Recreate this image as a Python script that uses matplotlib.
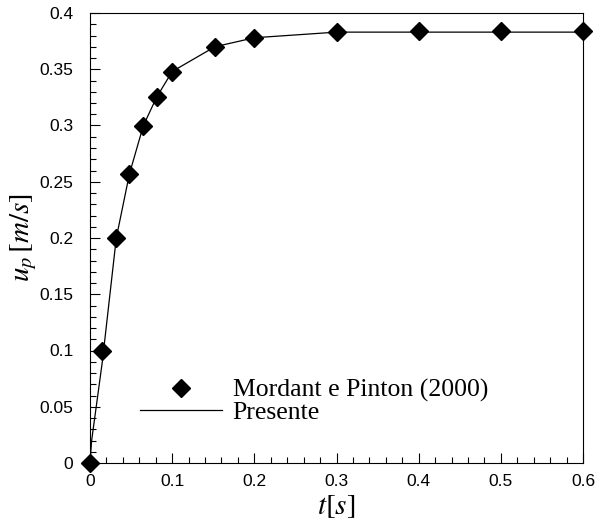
import matplotlib
matplotlib.use("Agg")
import matplotlib.pyplot as plt
from matplotlib.ticker import MultipleLocator

# experimental points (Mordant & Pinton 2000)
t_exp = [0.0, 0.015, 0.032, 0.048, 0.065, 0.081, 0.1, 0.152, 0.2, 0.3, 0.4, 0.5, 0.6]
u_exp = [0.0, 0.1, 0.2, 0.257, 0.3, 0.325, 0.348, 0.370, 0.378, 0.383, 0.384, 0.384, 0.384]

# present simulation
t_sim = [0.0, 0.002, 0.015, 0.032, 0.048, 0.065, 0.081, 0.1, 0.152, 0.2, 0.3, 0.4, 0.5, 0.6]
u_sim = [0.0, 0.02, 0.09, 0.2, 0.257, 0.3, 0.325, 0.348, 0.370, 0.378, 0.383, 0.383, 0.383, 0.383]

plt.rcParams['mathtext.fontset'] = 'stix'
plt.rcParams['font.family'] = 'Liberation Sans'

fig = plt.figure(figsize=(5.96, 5.21), dpi=100)
ax = fig.add_axes([90/596, 1 - 463/521, 493/596, 450/521])

ax.plot(t_sim, u_sim, color='black', lw=0.9, label='Presente')
ax.plot(t_exp, u_exp, 'D', color='black', ms=9.5, ls='none',
        label='Mordant e Pinton (2000)', clip_on=False, zorder=5)

ax.set_xlim(0, 0.6)
ax.set_ylim(0, 0.4)
ax.xaxis.set_major_locator(MultipleLocator(0.1))
ax.xaxis.set_minor_locator(MultipleLocator(0.02))
ax.yaxis.set_major_locator(MultipleLocator(0.05))
ax.yaxis.set_minor_locator(MultipleLocator(0.01))
ax.xaxis.set_major_formatter(plt.FuncFormatter(lambda v, p: '%g' % round(v, 3)))
ax.yaxis.set_major_formatter(plt.FuncFormatter(lambda v, p: '%g' % round(v, 3)))
ax.tick_params(which='both', direction='in', top=False, right=False, labelsize=12.5)
ax.tick_params(which='major', length=7, width=0.8)
ax.tick_params(which='minor', length=4, width=0.8)
ax.tick_params(axis='y', which='major', pad=12)
ax.tick_params(axis='x', which='major', pad=8)

ax.set_xlabel(r'$t[s]$', fontsize=21, labelpad=2)
ax.set_ylabel(r'$u_p\,[m/s]$', fontsize=21, labelpad=0)

handles, labels = ax.get_legend_handles_labels()
ax.legend(handles[::-1], labels[::-1], loc='lower left', bbox_to_anchor=(0.055, 0.035),
          frameon=False, handlelength=3.2, labelspacing=-0.05, handletextpad=0.4,
          prop={'family': 'Liberation Serif', 'size': 18.5})

fig.savefig('out.png', dpi=100)
